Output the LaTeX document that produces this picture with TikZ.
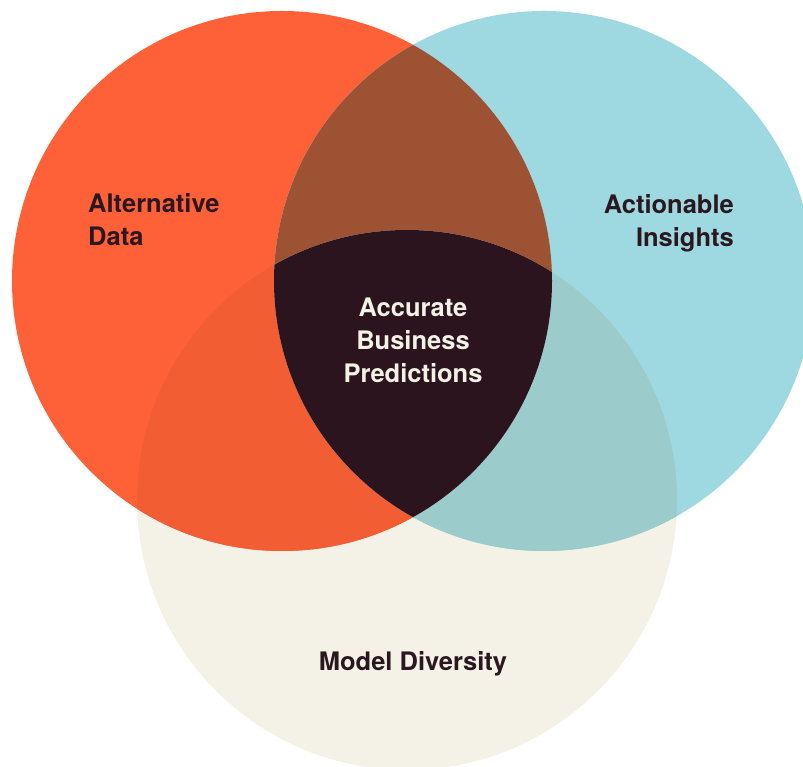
\documentclass[tikz,border=0pt]{standalone}
\usepackage{fontspec}
\setmainfont{TeX Gyre Heros}
\usepackage{xcolor}
\usetikzlibrary{positioning}

\definecolor{dataorange}{HTML}{FE6137}
\definecolor{insightblue}{HTML}{9ED9E2}
\definecolor{modelcream}{HTML}{F4F1E6}
\definecolor{brownmix}{HTML}{9D5233}
\definecolor{orangemix}{HTML}{F35D33}
\definecolor{tealmix}{HTML}{9CCBCB}
\definecolor{core}{HTML}{2C141E}
\definecolor{ink}{HTML}{2B1720}

\tikzset{
    label text/.style={font=\bfseries\fontsize{25.5}{33}\selectfont, text=ink, inner sep=0pt},
}

\begin{document}
\begin{tikzpicture}[x=1pt, y=1pt]
                \useasboundingbox (0, 0) rectangle (803, 767);

                % the three sets
                \coordinate (cd) at (282, 486);
                \coordinate (ci) at (544, 486);
                \coordinate (cm) at (407, 267);

                \fill[modelcream] (cm) circle (270);
                \fill[dataorange] (cd) circle (270);
                \fill[insightblue] (ci) circle (270);

                % pairwise overlaps
                \begin{scope}
                    \clip (cd) circle (270);
                    \fill[brownmix] (ci) circle (270);
                \end{scope}
                \begin{scope}
                    \clip (cd) circle (270);
                    \fill[orangemix] (cm) circle (270);
                \end{scope}
                \begin{scope}
                    \clip (ci) circle (270);
                    \fill[tealmix] (cm) circle (270);
                \end{scope}

                % all three
                \begin{scope}
                    \clip (cd) circle (270);
                    \clip (ci) circle (270);
                    \fill[core] (cm) circle (270);
                \end{scope}

                \node[label text, anchor=west, align=left] (data) at (88, 547) {Alternative\\Data};
                \node[label text, anchor=east, align=right] (insights) at (734, 544) {Actionable\\Insights};
                \node[label text, align=center, text=modelcream] (accurate) at (413, 427) {Accurate\\Business\\Predictions};
                \node[label text] (model) at (413, 103) {Model Diversity};
            \end{tikzpicture}
\end{document}
